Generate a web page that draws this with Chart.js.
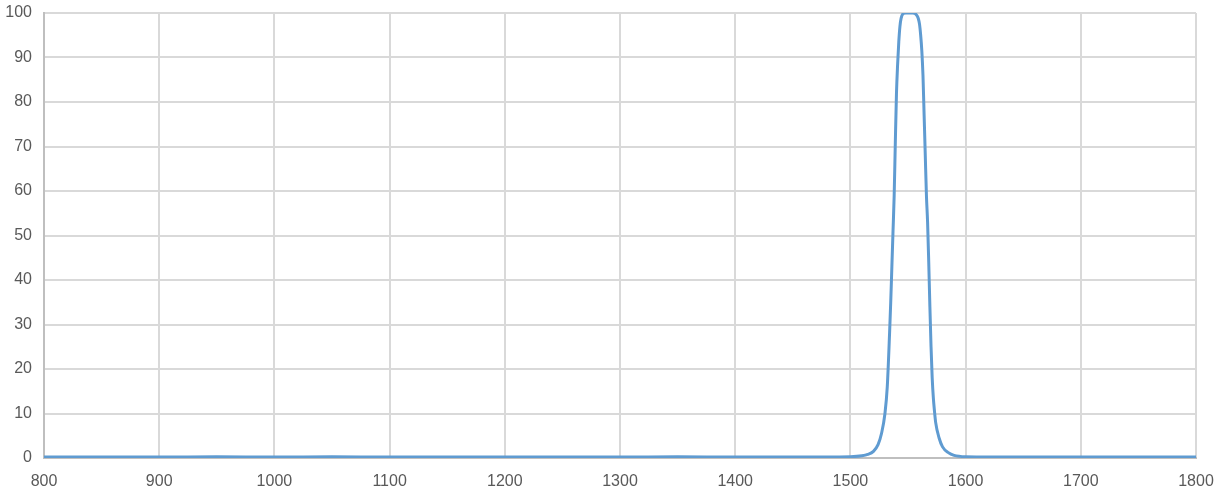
<!DOCTYPE html>
<html>
<head>
<meta charset="utf-8">
<script src="https://cdn.jsdelivr.net/npm/chart.js@4/dist/chart.umd.min.js"></script>
<style>
  html, body { margin: 0; padding: 0; background: #fff; }
  #wrap { width: 1218px; height: 497px; }
</style>
</head>
<body>
<div id="wrap"><canvas id="TransChart" width="1218" height="497"></canvas></div>
<script>
// wavelength (nm) and transmission (%)
var wavelength = [800, 850, 900, 950, 1000, 1050, 1100, 1150, 1200, 1250, 1300, 1350, 1400, 1450,
    1500, 1510, 1515, 1520, 1524, 1527, 1530, 1532, 1534, 1535, 1536, 1537, 1538, 1539, 1540,
    1541, 1542, 1543, 1544, 1546, 1548, 1550, 1552, 1554, 1556, 1558, 1559, 1560, 1561, 1562,
    1563, 1564, 1565, 1566, 1567, 1568, 1569, 1570, 1571, 1572, 1573, 1574, 1577, 1580, 1585,
    1590, 1600, 1650, 1700, 1750, 1800];
var transmission = [0.2, 0.2, 0.2, 0.3, 0.2, 0.3, 0.2, 0.2, 0.2, 0.2, 0.2, 0.3, 0.2, 0.2,
    0.3, 0.5, 0.8, 1.5, 3, 5.5, 10, 16, 28, 35, 43, 51, 59, 71, 82,
    88.5, 93.5, 97, 98.8, 99.9, 100, 100, 100, 100, 99.9, 99.3, 98.7, 97.5, 95, 91.5,
    86, 77, 68, 59, 53, 44, 34, 25, 18, 13.5, 10.5, 8, 4.5, 2.5, 1.2,
    0.6, 0.3, 0.2, 0.2, 0.2, 0.2];
var xTicks = [800, 900, 1000, 1100, 1200, 1300, 1400, 1500, 1600, 1700, 1800];
var yTicks = [0, 10, 20, 30, 40, 50, 60, 70, 80, 90, 100];

var points = wavelength.map(function (w, i) {
    return { x: w, y: transmission[i] };
});

var ctx = document.getElementById("TransChart").getContext('2d');
var gridColor = '#d9d9d9';
var textFont = { family: 'Liberation Sans', size: 16 };
var plain = function (v) { return String(v); };

var myLineChart = new Chart(ctx, {
    type: 'line',
    data: {
        datasets: [{
            data: points,
            borderColor: '#5f9bd1',
            borderWidth: 3,
            pointRadius: 0,
            fill: false,
            tension: 0.4,
            cubicInterpolationMode: 'monotone'
        }]
    },
    options: {
        responsive: false,
        animation: false,
        layout: { padding: { top: 13, right: 22, left: 0, bottom: 0 } },
        plugins: { legend: { display: false }, tooltip: { enabled: false } },
        scales: {
            x: {
                type: 'linear',
                min: xTicks[0],
                max: xTicks[xTicks.length - 1],
                afterBuildTicks: function (s) { s.ticks = xTicks.map(function (v) { return { value: v }; }); },
                afterFit: function (s) { s.height = 39; s.paddingLeft = 0; s.paddingRight = 0; },
                grid: { color: gridColor, lineWidth: 2, drawTicks: false },
                border: { color: '#bfbfbf', width: 2 },
                ticks: { color: '#595959', font: textFont, padding: 14, maxRotation: 0, callback: plain }
            },
            y: {
                min: yTicks[0],
                max: yTicks[yTicks.length - 1],
                afterBuildTicks: function (s) { s.ticks = yTicks.map(function (v) { return { value: v }; }); },
                afterFit: function (s) { s.width = 44; s.paddingTop = 0; s.paddingBottom = 0; },
                grid: { color: gridColor, lineWidth: 2, drawTicks: false },
                border: { color: '#bfbfbf', width: 2 },
                ticks: { color: '#595959', font: textFont, padding: 12, callback: plain }
            }
        }
    }
});
</script>
</body>
</html>
